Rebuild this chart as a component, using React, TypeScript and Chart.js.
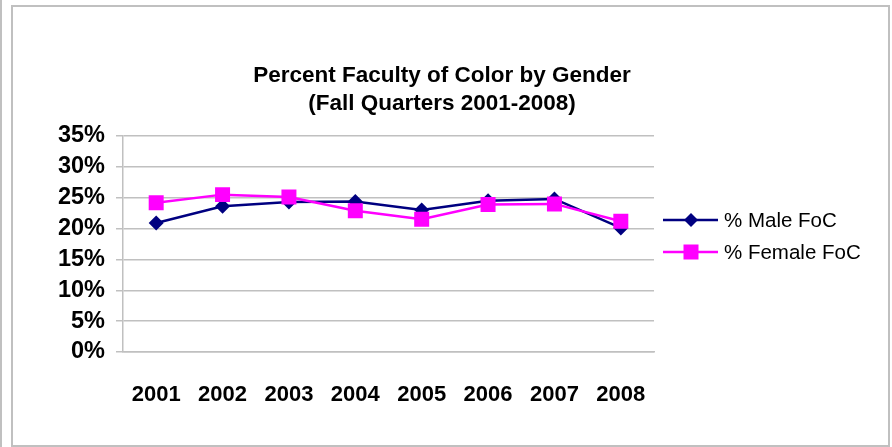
import React, { useEffect, useRef } from "react";
import { Chart, registerables } from "chart.js";

Chart.register(...registerables);

const categories = ["2001", "2002", "2003", "2004", "2005", "2006", "2007", "2008"];
const maleFoC = [0.209, 0.236, 0.243, 0.244, 0.23, 0.245, 0.248, 0.201];
const femaleFoC = [0.242, 0.255, 0.251, 0.229, 0.215, 0.239, 0.24, 0.212];
const seriesNames = ["% Male FoC", "% Female FoC"];
const yTickLabels = ["0%", "5%", "10%", "15%", "20%", "25%", "30%", "35%"];
const titleLines = ["Percent Faculty of Color by Gender", "(Fall Quarters 2001-2008)"];

const FONT = "'Liberation Sans', Arial, Helvetica, sans-serif";
const NAVY = "#000080";
const MAGENTA = "#FF00FF";
const GRID = "#c0c0c0";

const overlayPlugin = {
  id: "overlay",
  afterDraw(chart: any) {
    const ctx = chart.ctx;
    ctx.save();
    // title
    ctx.fillStyle = "#000";
    ctx.font = `bold 22.5px ${FONT}`;
    ctx.textAlign = "center";
    ctx.textBaseline = "middle";
    titleLines.forEach((t, i) => ctx.fillText(t, 442, 76 + i * 28));
    // legend
    const ys = [220, 252];
    chart.data.datasets.forEach((ds: any) => {
      const i = seriesNames.indexOf(ds.label);
      const y = ys[i];
      ctx.strokeStyle = ds.borderColor;
      ctx.lineWidth = ds.borderWidth;
      ctx.beginPath();
      ctx.moveTo(663, y);
      ctx.lineTo(718, y);
      ctx.stroke();
      ctx.fillStyle = ds.backgroundColor;
      if (ds.pointStyle === "rectRot") {
        const r = ds.pointRadius - 0.5;
        ctx.beginPath();
        ctx.moveTo(691 - r, y);
        ctx.lineTo(691, y - r);
        ctx.lineTo(691 + r, y);
        ctx.lineTo(691, y + r);
        ctx.closePath();
        ctx.fill();
      } else {
        const s = 7.5;
        ctx.fillRect(691 - s, y - s, 2 * s, 2 * s);
      }
      ctx.fillStyle = "#000";
      ctx.font = `20.5px ${FONT}`;
      ctx.textAlign = "left";
      ctx.textBaseline = "middle";
      ctx.fillText(ds.label, 724, y + 1);
    });
    ctx.restore();
  },
};

export default function App() {
  const ref = useRef<HTMLCanvasElement>(null);
  useEffect(() => {
    document.body.style.margin = "0";
    const chart = new Chart(ref.current!, {
      type: "line",
      data: {
        labels: categories,
        datasets: [
          {
            label: seriesNames[0],
            data: maleFoC,
            borderColor: NAVY,
            backgroundColor: NAVY,
            borderWidth: 2.5,
            pointStyle: "rectRot",
            pointRadius: 7.5,
            pointBorderWidth: 0,
            pointBackgroundColor: NAVY,
            tension: 0,
            order: 1,
          },
          {
            label: seriesNames[1],
            data: femaleFoC,
            borderColor: MAGENTA,
            backgroundColor: MAGENTA,
            borderWidth: 2.5,
            pointStyle: "rect",
            pointRadius: 10.6,
            pointBorderWidth: 0,
            pointBackgroundColor: MAGENTA,
            tension: 0,
            order: 0,
          },
        ],
      },
      options: {
        responsive: false,
        animation: false,
        layout: { padding: { left: 0, top: 136, right: 238, bottom: 0 } },
        plugins: {
          legend: { display: false },
          title: { display: false },
          tooltip: { enabled: false },
        },
        scales: {
          x: {
            offset: true,
            grid: { display: false },
            border: { display: true, color: GRID, width: 1.5 },
            ticks: {
              color: "#000",
              font: { family: FONT, size: 22, weight: "bold" },
              padding: 22,
              maxRotation: 0,
              autoSkip: false,
            },
            afterFit: (s: any) => {
              s.height = 95;
            },
          },
          y: {
            min: 0,
            max: 0.35,
            grid: { color: GRID, lineWidth: 1.5, drawTicks: true, tickLength: 7 },
            border: { display: true, color: GRID, width: 1.5 },
            ticks: {
              stepSize: 0.05,
              autoSkip: false,
              color: "#000",
              font: { family: FONT, size: 23.5, weight: "bold" },
              padding: 11,
              callback: (_v: any, i: number) => yTickLabels[i],
            },
            afterFit: (s: any) => {
              s.width = 123;
            },
          },
        },
      },
      plugins: [overlayPlugin],
    });
    return () => chart.destroy();
  }, []);

  return (
    <div style={{ position: "fixed", left: 0, top: 0, width: 892, height: 447, background: "#fff" }}>
      <div style={{ position: "absolute", left: 0, top: 0, width: 2, height: 447, background: GRID }} />
      <div
        style={{
          position: "absolute",
          left: 11,
          top: 5,
          width: 879,
          height: 442,
          boxSizing: "border-box",
          border: `2px solid ${GRID}`,
        }}
      />
      <canvas ref={ref} width={892} height={447} style={{ position: "absolute", left: 0, top: 0 }} />
    </div>
  );
}
